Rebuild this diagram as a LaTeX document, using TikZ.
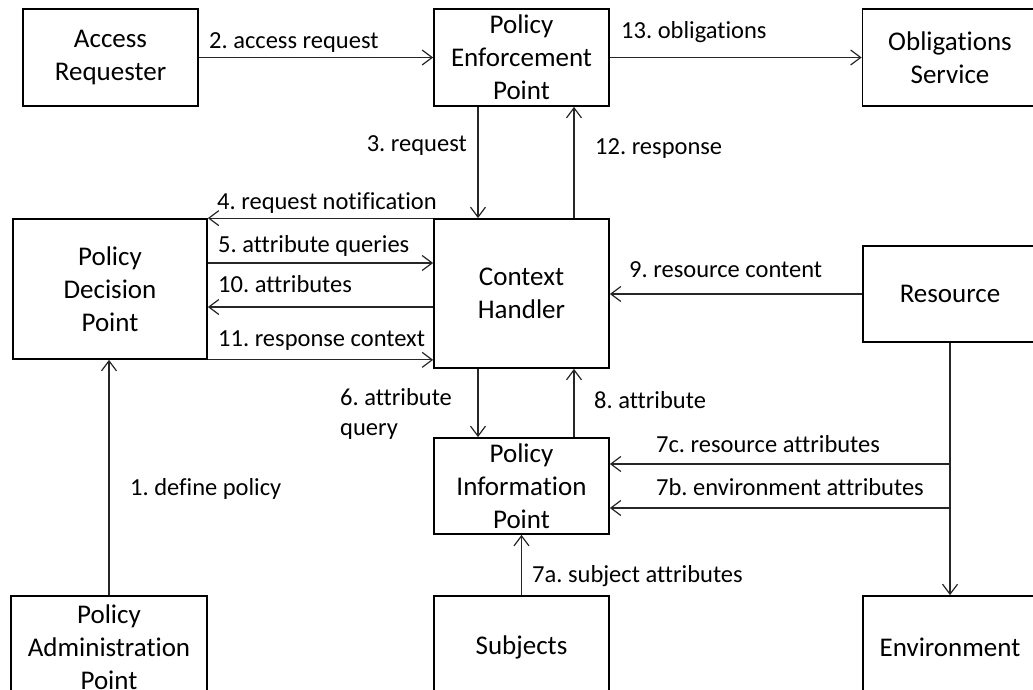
\documentclass[tikz,border=0pt]{standalone}
\usepackage{fontspec}
\setmainfont{Carlito}[Ligatures=NoCommon]
\usetikzlibrary{arrows.meta}
\frenchspacing

\tikzset{
  box/.style={draw=black, line width=1.7pt, inner sep=0pt, align=center,
    minimum width=175pt, font=\fontsize{27}{33}\selectfont},
  flow/.style={draw=black!85, line width=1.2pt,
    -{Straight Barb[length=10pt,width=15pt,line width=1.2pt]}},
  lbl/.style={inner sep=0pt, anchor=base west,
    font=\fontsize{24.5}{30}\selectfont},
}

\begin{document}
\begin{tikzpicture}[x=1pt, y=-1pt]
  \useasboundingbox (0,0) rectangle (1033,690);
  \clip (0,0) rectangle (1033,690);

  % components
  \node[box, minimum height=97pt] (AR)  at (110.5,57.5) {Access\\Requester};
  \node[box, minimum height=97pt] (PEP) at (521.5,57.5) {Policy\\Enforcement\\Point};
  \node[box, minimum height=97pt] (OS)  at (950,57.5)   {Obligations\\Service};
  \node[box, minimum width=194pt, minimum height=140pt] (PDP) at (110,289) {Policy\\Decision\\Point};
  \node[box, minimum height=149pt] (CH)  at (521.5,293.5) {Context\\Handler};
  \node[box, minimum width=174pt, minimum height=96pt] (RES) at (950,294) {Resource};
  \node[box, minimum height=96pt] (PIP) at (521.5,486) {Policy\\Information\\Point};
  \node[box, minimum height=102pt] (SUB) at (521.5,647) {Subjects};
  \node[box, minimum width=174pt, minimum height=102pt] (ENV) at (950,647) {Environment};
  \node[box, minimum width=196pt, minimum height=102pt] (PAP) at (109,647) {Policy\\Administration\\Point};

  % request path
  \draw[flow] (AR.east) -- (PEP.west);
  \draw[flow] (PEP.east) -- (OS.west);
  \draw[flow] ([xshift=-43.5pt]PEP.south) -- ([xshift=-43.5pt]CH.north);
  \draw[flow] ([xshift=52.5pt]CH.north) -- ([xshift=52.5pt]PEP.south);

  % context handler <-> decision point
  \draw[flow] (CH.north west) -- (PDP.north east);
  \coordinate (q5) at ([yshift=26pt]PDP.east);
  \draw[flow] (q5) -- (q5 -| CH.west);
  \coordinate (q10) at ([yshift=-18pt]PDP.east);
  \draw[flow] (q10 -| CH.west) -- (q10);
  \draw[flow] (PDP.south east) -- (PDP.south east -| CH.west);
  \draw[flow] (PAP.north) -- (PAP.north |- PDP.south);

  % resource content
  \draw[flow] (RES.west) -- (RES.west -| CH.east);

  % attribute retrieval
  \draw[flow] ([xshift=-43.5pt]CH.south) -- ([xshift=-43.5pt]PIP.north);
  \draw[flow] ([xshift=52.5pt]PIP.north) -- ([xshift=52.5pt]CH.south);
  \draw[flow] (SUB.north) -- (SUB.north |- PIP.south);
  \draw[flow] (RES.south) -- (ENV.north);
  \coordinate (q7c) at ([yshift=22pt]PIP.east);
  \coordinate (q7b) at ([yshift=-22pt]PIP.east);
  \draw[flow] (q7c -| RES.south) -- (q7c);
  \draw[flow] (q7b -| RES.south) -- (q7b);

  % connector labels (placed by baseline)
  \node[lbl] (l2)  at (209,49)  {2. access request};
  \node[lbl] (l13) at (621,39)  {13. obligations};
  \node[lbl, anchor=base east] (l3) at (467,152) {3. request};
  \node[lbl] (l12) at (595,154) {12. response};
  \node[lbl] (l4)  at (217,209) {4. request notification};
  \node[lbl] (l5)  at (218,252) {5. attribute queries};
  \node[lbl] (l10) at (218,292) {10. attributes};
  \node[lbl] (l11) at (218,346) {11. response context};
  \node[lbl] (l9)  at (629,277) {9. resource content};
  \node[lbl, align=left, anchor=west] (l6) at (340,414) {6. attribute\\query};
  \node[lbl] (l8)  at (594,408) {8. attribute};
  \node[lbl] (l7c) at (656,452) {7c. resource attributes};
  \node[lbl] (l7b) at (656,495) {7b. environment attributes};
  \node[lbl] (l7a) at (532,582) {7a. subject attributes};
  \node[lbl] (l1)  at (130,495) {1. define policy};
\end{tikzpicture}
\end{document}
